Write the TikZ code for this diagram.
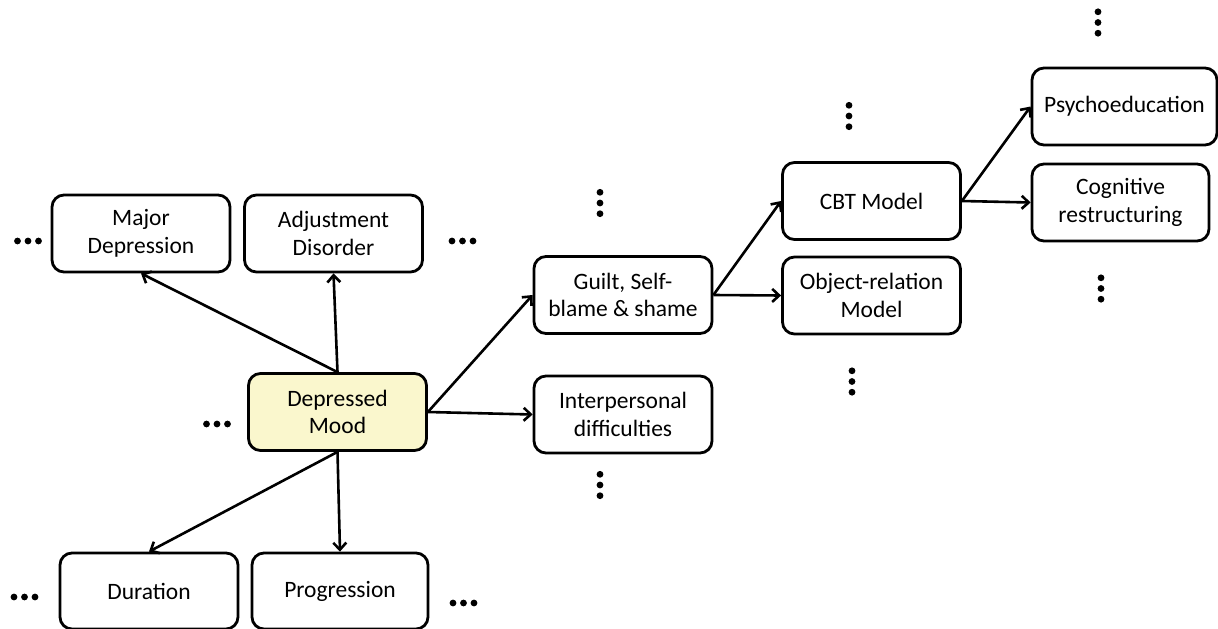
\documentclass[tikz,border=0pt]{standalone}
\usepackage{fontspec}
\setmainfont{Carlito}
\usetikzlibrary{arrows.meta}

\definecolor{moodfill}{RGB}{250,247,205}

\tikzset{
  box/.style={draw=black, line width=2.8pt, rounded corners=12pt,
    minimum width=178pt, minimum height=77pt, inner sep=0pt,
    align=center, font=\fontsize{23.5}{27.5}\selectfont, text=black,
    yshift=0pt},
  link/.style={draw=black, line width=2.6pt,
    -{Straight Barb[length=7pt,width=13pt,line width=2.6pt]}},
  hdotsrow/.pic={\foreach \i in {-1,0,1} \fill (\i*10.5pt,0) circle (3.4pt);},
  vdotsrow/.pic={\foreach \i in {-1,0,1} \fill (0,\i*10.7pt) circle (3.4pt);}
}

\begin{document}
\begin{tikzpicture}[x=1pt, y=-1pt]
  \useasboundingbox (0,0) rectangle (1218,629);

  % central symptom and its neighbours
  \node[box, fill=moodfill] (mood) at (337.5,412) {Depressed\\Mood};
  \node[box] (major)    at (141,233.5)   {Major\\Depression};
  \node[box] (adjust)   at (333.5,233.5) {Adjustment\\Disorder};
  \node[box, minimum height=76pt] (duration) at (149,591) {Duration};
  \node[box, minimum width=176pt, minimum height=76pt] (progress) at (340,591) {Progression};

  % themes
  \node[box] (guilt) at (623,295)   {Guilt, Self-\\blame \& shame};
  \node[box] (inter) at (623,414.5) {Interpersonal\\difficulties};

  % models
  \node[box] (cbt)    at (871.5,201)   {CBT Model};
  \node[box] (objrel) at (871.5,295.5) {Object-relation\\Model};

  % interventions
  \node[box, minimum width=185pt] (psycho) at (1124.5,106.5) {Psychoeducation};
  \node[box, minimum width=177pt] (cogres) at (1120.5,202.5) {Cognitive\\restructuring};

  % connectors
  \draw[link] (mood.north) -- (major.south);
  \draw[link] (mood.north) -- (adjust.south);
  \draw[link] (mood.south) -- (duration.north);
  \draw[link] (mood.south) -- (progress.north);
  \draw[link] (mood.east) -- (guilt.west);
  \draw[link] (mood.east) -- (inter.west);
  \draw[link] (guilt.east) -- (cbt.west);
  \draw[link] (guilt.east) -- (objrel.west);
  \draw[link] (cbt.east) -- (psycho.west);
  \draw[link] (cbt.east) -- (cogres.west);

  % continuation marks
  \pic at (28,241)    {hdotsrow};
  \pic at (462.5,241) {hdotsrow};
  \pic at (217,424)   {hdotsrow};
  \pic at (24.5,597)  {hdotsrow};
  \pic at (463.5,603) {hdotsrow};

  \pic at (600,203)    {vdotsrow};
  \pic at (600,485)    {vdotsrow};
  \pic at (849,116)    {vdotsrow};
  \pic at (852,381.5)  {vdotsrow};
  \pic at (1098,22.5)  {vdotsrow};
  \pic at (1101,288.5) {vdotsrow};
\end{tikzpicture}
\end{document}
